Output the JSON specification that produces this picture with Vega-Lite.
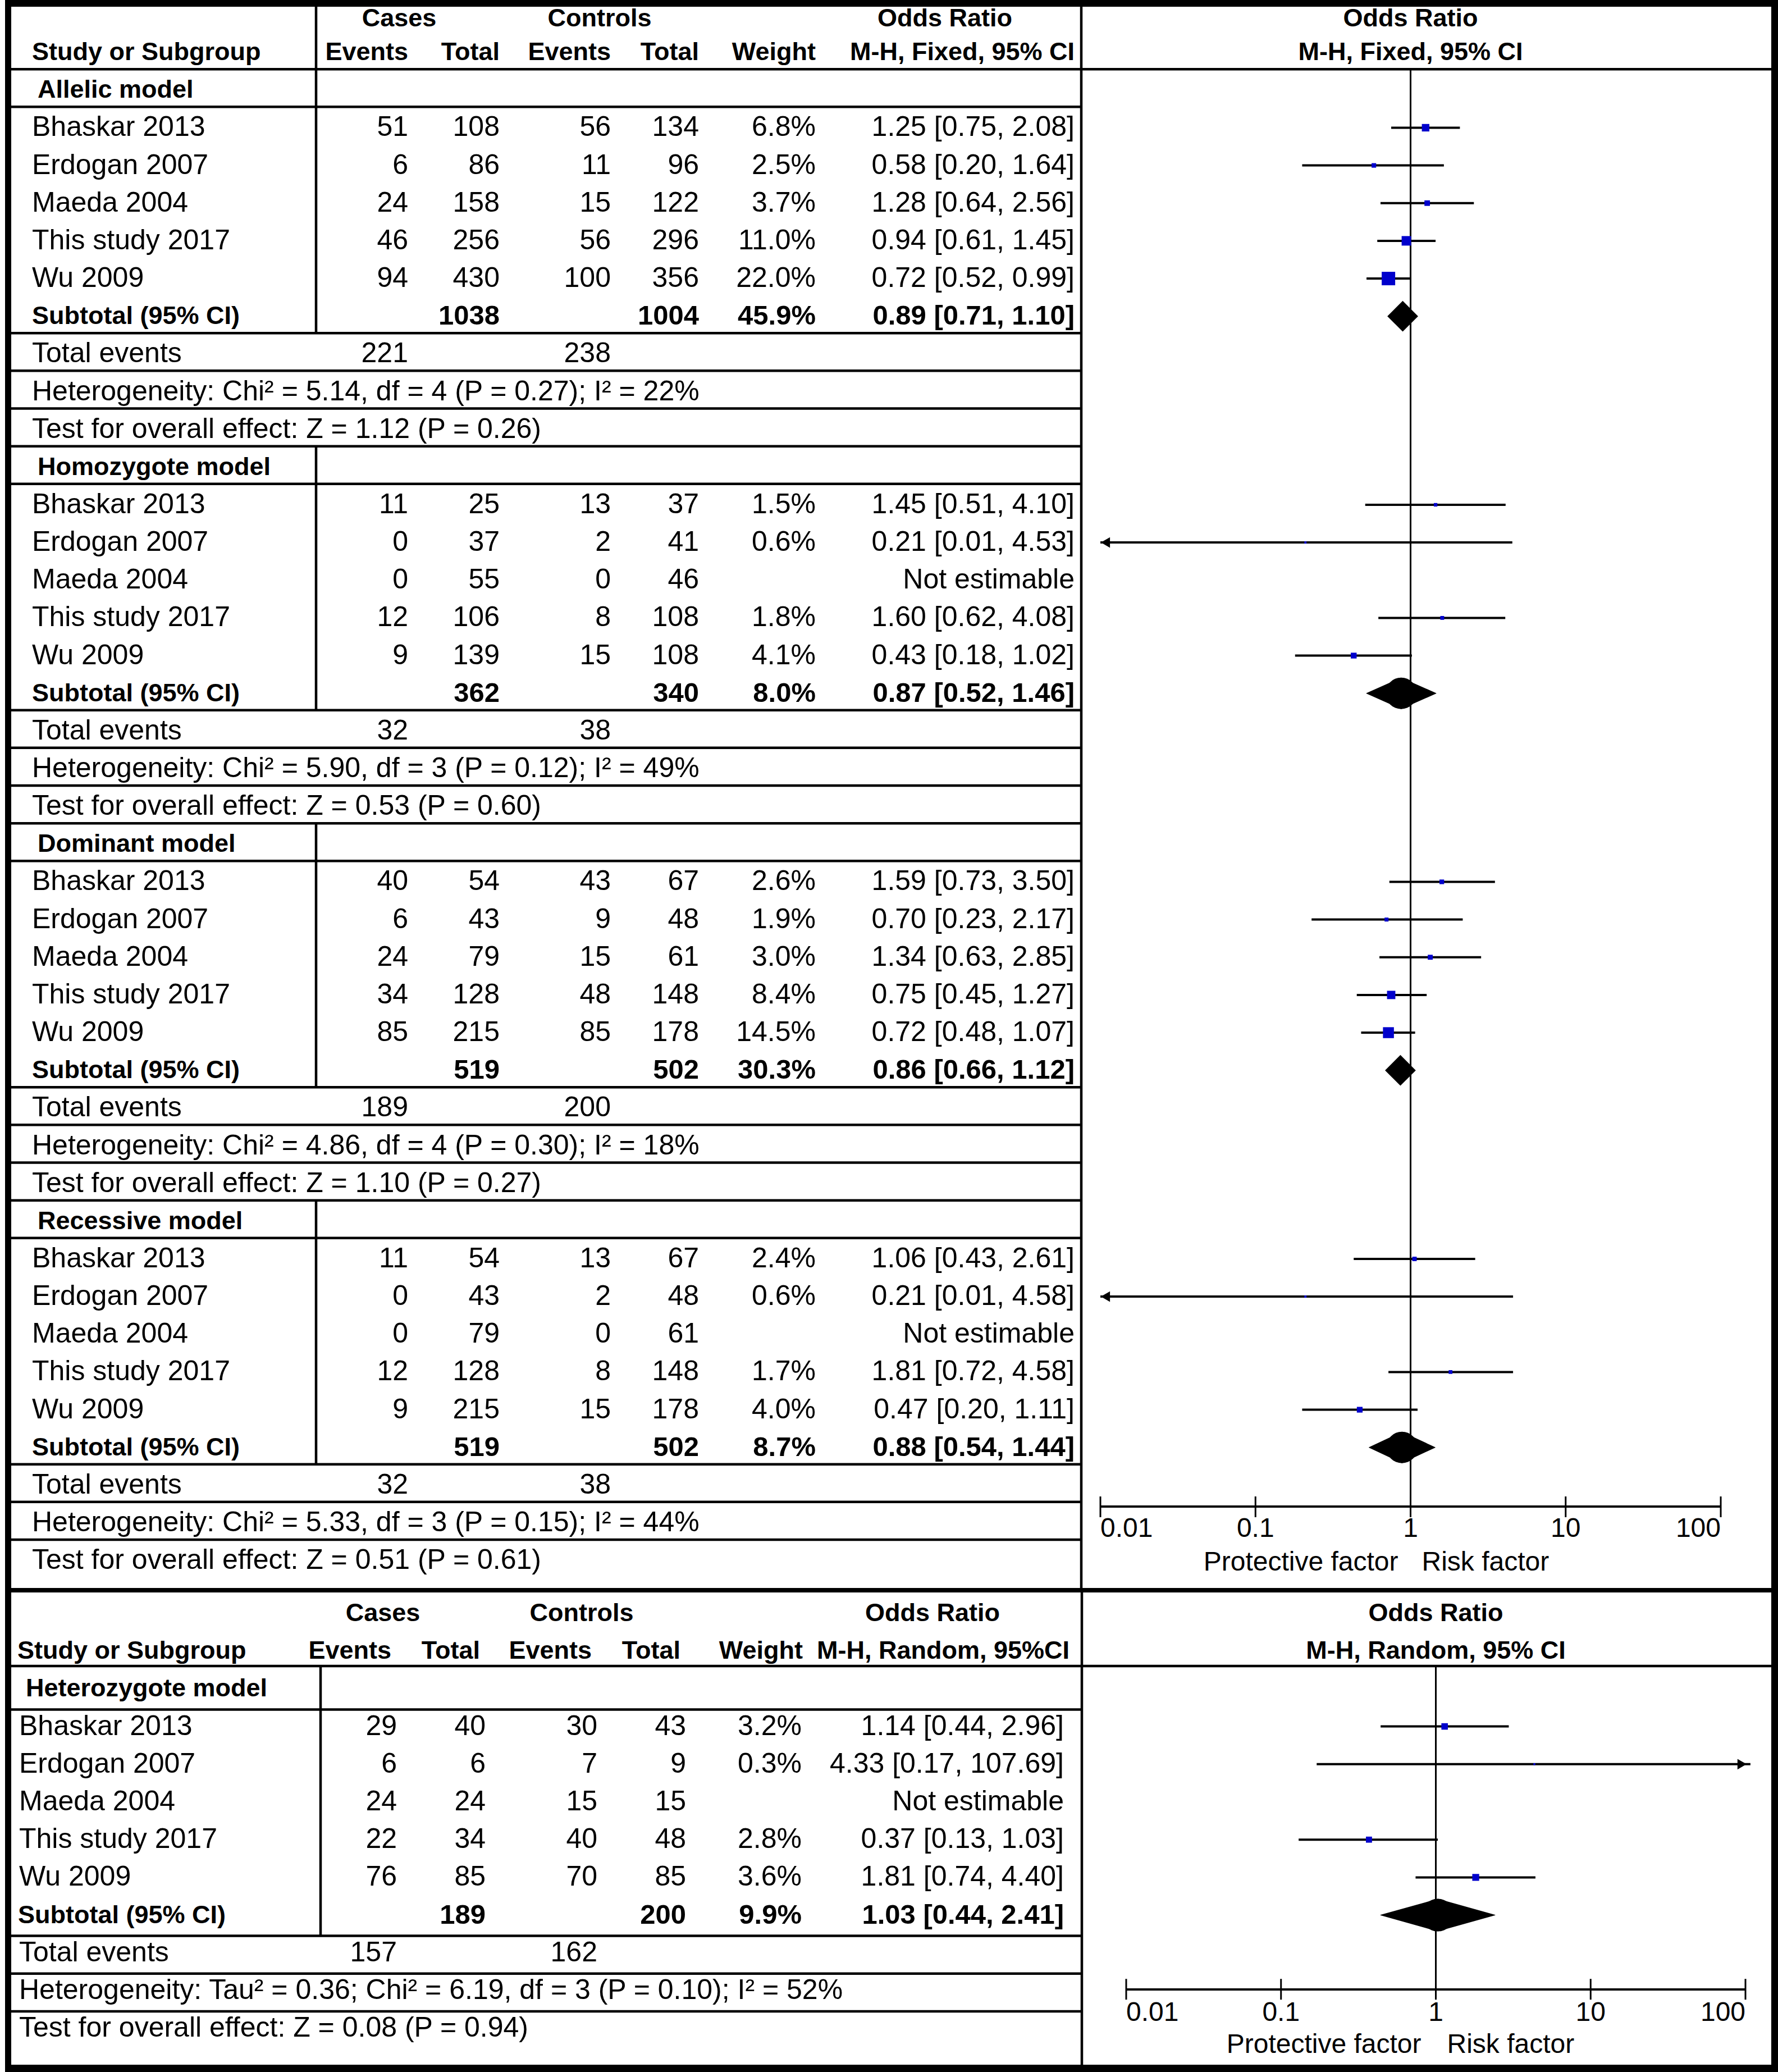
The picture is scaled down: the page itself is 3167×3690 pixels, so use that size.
{
"$schema":"https://vega.github.io/schema/vega-lite/v6.json",
"padding":0,
"background":"white",
"columns":8,
"spacing":0,
"bounds":"flush",
"align":"each",
"resolve":{"scale":{"size":"independent"}},
"config":{"view":{"stroke":null},"text":{"font":"Liberation Sans","fontSize":50,"baseline":"middle","fill":"black"}},
"datasets":{
"top":[
{"row":2,"kind":"group","label":"Allelic model"},
{"row":3,"kind":"study","label":"Bhaskar 2013","ce":51,"ct":108,"ke":56,"kt":134,"w":"6.8%","ortxt":"1.25 [0.75, 2.08]","est":1.25,"lo":0.75,"hi":2.08,"wt":6.8},
{"row":4,"kind":"study","label":"Erdogan 2007","ce":6,"ct":86,"ke":11,"kt":96,"w":"2.5%","ortxt":"0.58 [0.20, 1.64]","est":0.58,"lo":0.20,"hi":1.64,"wt":2.5},
{"row":5,"kind":"study","label":"Maeda 2004","ce":24,"ct":158,"ke":15,"kt":122,"w":"3.7%","ortxt":"1.28 [0.64, 2.56]","est":1.28,"lo":0.64,"hi":2.56,"wt":3.7},
{"row":6,"kind":"study","label":"This study 2017","ce":46,"ct":256,"ke":56,"kt":296,"w":"11.0%","ortxt":"0.94 [0.61, 1.45]","est":0.94,"lo":0.61,"hi":1.45,"wt":11.0},
{"row":7,"kind":"study","label":"Wu 2009","ce":94,"ct":430,"ke":100,"kt":356,"w":"22.0%","ortxt":"0.72 [0.52, 0.99]","est":0.72,"lo":0.52,"hi":0.99,"wt":22.0},
{"row":8,"kind":"sub","label":"Subtotal (95% CI)","ct":1038,"kt":1004,"w":"45.9%","ortxt":"0.89 [0.71, 1.10]","est":0.89,"lo":0.71,"hi":1.10},
{"row":9,"kind":"tot","label":"Total events","ce":221,"ke":238},
{"row":10,"kind":"het","label":"Heterogeneity: Chi² = 5.14, df = 4 (P = 0.27); I² = 22%"},
{"row":11,"kind":"test","label":"Test for overall effect: Z = 1.12 (P = 0.26)"},
{"row":12,"kind":"group","label":"Homozygote model"},
{"row":13,"kind":"study","label":"Bhaskar 2013","ce":11,"ct":25,"ke":13,"kt":37,"w":"1.5%","ortxt":"1.45 [0.51, 4.10]","est":1.45,"lo":0.51,"hi":4.10,"wt":1.5},
{"row":14,"kind":"study","label":"Erdogan 2007","ce":0,"ct":37,"ke":2,"kt":41,"w":"0.6%","ortxt":"0.21 [0.01, 4.53]","est":0.21,"lo":0.01,"hi":4.53,"wt":0.6},
{"row":15,"kind":"study","label":"Maeda 2004","ce":0,"ct":55,"ke":0,"kt":46,"ortxt":"Not estimable"},
{"row":16,"kind":"study","label":"This study 2017","ce":12,"ct":106,"ke":8,"kt":108,"w":"1.8%","ortxt":"1.60 [0.62, 4.08]","est":1.60,"lo":0.62,"hi":4.08,"wt":1.8},
{"row":17,"kind":"study","label":"Wu 2009","ce":9,"ct":139,"ke":15,"kt":108,"w":"4.1%","ortxt":"0.43 [0.18, 1.02]","est":0.43,"lo":0.18,"hi":1.02,"wt":4.1},
{"row":18,"kind":"sub","label":"Subtotal (95% CI)","ct":362,"kt":340,"w":"8.0%","ortxt":"0.87 [0.52, 1.46]","est":0.87,"lo":0.52,"hi":1.46},
{"row":19,"kind":"tot","label":"Total events","ce":32,"ke":38},
{"row":20,"kind":"het","label":"Heterogeneity: Chi² = 5.90, df = 3 (P = 0.12); I² = 49%"},
{"row":21,"kind":"test","label":"Test for overall effect: Z = 0.53 (P = 0.60)"},
{"row":22,"kind":"group","label":"Dominant model"},
{"row":23,"kind":"study","label":"Bhaskar 2013","ce":40,"ct":54,"ke":43,"kt":67,"w":"2.6%","ortxt":"1.59 [0.73, 3.50]","est":1.59,"lo":0.73,"hi":3.50,"wt":2.6},
{"row":24,"kind":"study","label":"Erdogan 2007","ce":6,"ct":43,"ke":9,"kt":48,"w":"1.9%","ortxt":"0.70 [0.23, 2.17]","est":0.70,"lo":0.23,"hi":2.17,"wt":1.9},
{"row":25,"kind":"study","label":"Maeda 2004","ce":24,"ct":79,"ke":15,"kt":61,"w":"3.0%","ortxt":"1.34 [0.63, 2.85]","est":1.34,"lo":0.63,"hi":2.85,"wt":3.0},
{"row":26,"kind":"study","label":"This study 2017","ce":34,"ct":128,"ke":48,"kt":148,"w":"8.4%","ortxt":"0.75 [0.45, 1.27]","est":0.75,"lo":0.45,"hi":1.27,"wt":8.4},
{"row":27,"kind":"study","label":"Wu 2009","ce":85,"ct":215,"ke":85,"kt":178,"w":"14.5%","ortxt":"0.72 [0.48, 1.07]","est":0.72,"lo":0.48,"hi":1.07,"wt":14.5},
{"row":28,"kind":"sub","label":"Subtotal (95% CI)","ct":519,"kt":502,"w":"30.3%","ortxt":"0.86 [0.66, 1.12]","est":0.86,"lo":0.66,"hi":1.12},
{"row":29,"kind":"tot","label":"Total events","ce":189,"ke":200},
{"row":30,"kind":"het","label":"Heterogeneity: Chi² = 4.86, df = 4 (P = 0.30); I² = 18%"},
{"row":31,"kind":"test","label":"Test for overall effect: Z = 1.10 (P = 0.27)"},
{"row":32,"kind":"group","label":"Recessive model"},
{"row":33,"kind":"study","label":"Bhaskar 2013","ce":11,"ct":54,"ke":13,"kt":67,"w":"2.4%","ortxt":"1.06 [0.43, 2.61]","est":1.06,"lo":0.43,"hi":2.61,"wt":2.4},
{"row":34,"kind":"study","label":"Erdogan 2007","ce":0,"ct":43,"ke":2,"kt":48,"w":"0.6%","ortxt":"0.21 [0.01, 4.58]","est":0.21,"lo":0.01,"hi":4.58,"wt":0.6},
{"row":35,"kind":"study","label":"Maeda 2004","ce":0,"ct":79,"ke":0,"kt":61,"ortxt":"Not estimable"},
{"row":36,"kind":"study","label":"This study 2017","ce":12,"ct":128,"ke":8,"kt":148,"w":"1.7%","ortxt":"1.81 [0.72, 4.58]","est":1.81,"lo":0.72,"hi":4.58,"wt":1.7},
{"row":37,"kind":"study","label":"Wu 2009","ce":9,"ct":215,"ke":15,"kt":178,"w":"4.0%","ortxt":"0.47 [0.20, 1.11]","est":0.47,"lo":0.20,"hi":1.11,"wt":4.0},
{"row":38,"kind":"sub","label":"Subtotal (95% CI)","ct":519,"kt":502,"w":"8.7%","ortxt":"0.88 [0.54, 1.44]","est":0.88,"lo":0.54,"hi":1.44},
{"row":39,"kind":"tot","label":"Total events","ce":32,"ke":38},
{"row":40,"kind":"het","label":"Heterogeneity: Chi² = 5.33, df = 3 (P = 0.15); I² = 44%"},
{"row":41,"kind":"test","label":"Test for overall effect: Z = 0.51 (P = 0.61)"}
],
"bot":[
{"row":2,"kind":"group","label":"Heterozygote model"},
{"row":3,"kind":"study","label":"Bhaskar 2013","ce":29,"ct":40,"ke":30,"kt":43,"w":"3.2%","ortxt":"1.14 [0.44, 2.96]","est":1.14,"lo":0.44,"hi":2.96,"wt":3.2},
{"row":4,"kind":"study","label":"Erdogan 2007","ce":6,"ct":6,"ke":7,"kt":9,"w":"0.3%","ortxt":"4.33 [0.17, 107.69]","est":4.33,"lo":0.17,"hi":107.69,"wt":0.3},
{"row":5,"kind":"study","label":"Maeda 2004","ce":24,"ct":24,"ke":15,"kt":15,"ortxt":"Not estimable"},
{"row":6,"kind":"study","label":"This study 2017","ce":22,"ct":34,"ke":40,"kt":48,"w":"2.8%","ortxt":"0.37 [0.13, 1.03]","est":0.37,"lo":0.13,"hi":1.03,"wt":2.8},
{"row":7,"kind":"study","label":"Wu 2009","ce":76,"ct":85,"ke":70,"kt":85,"w":"3.6%","ortxt":"1.81 [0.74, 4.40]","est":1.81,"lo":0.74,"hi":4.40,"wt":3.6},
{"row":8,"kind":"sub","label":"Subtotal (95% CI)","ct":189,"kt":200,"w":"9.9%","ortxt":"1.03 [0.44, 2.41]","est":1.03,"lo":0.44,"hi":2.41},
{"row":9,"kind":"tot","label":"Total events","ce":157,"ke":162},
{"row":10,"kind":"het","label":"Heterogeneity: Tau² = 0.36; Chi² = 6.19, df = 3 (P = 0.10); I² = 52%"},
{"row":11,"kind":"test","label":"Test for overall effect: Z = 0.08 (P = 0.94)"}
],
"ticks":[{"v":0.01,"lab":"0.01"},{"v":0.1,"lab":"0.1"},{"v":1,"lab":"1"},{"v":10,"lab":"10"},{"v":100,"lab":"100"}]
},
"concat":[
{"width":543,"height":2820,"data":{"name":"top"},"layer":[
{"transform":[{"filter":"datum.kind != 'study' && datum.row != 41"}],"mark":{"type":"rule","color":"black","strokeWidth":4.5,"yOffset":30},"encoding":{"y":{"field":"row","type":"quantitative","scale":{"domain":[-0.2085,41.787],"reverse":true,"nice":false,"zero":false},"axis":null}}},
{"data":{"values":[{}]},"mark":{"type":"rule","color":"black","strokeWidth":4.5},"encoding":{"y":{"datum":1.45,"type":"quantitative","axis":null}}},
{"data":{"values":[{}]},"mark":{"type":"rect","color":"black","yOffset":-12,"y2Offset":0},"encoding":{"x":{"value":0},"x2":{"value":"width"},"y":{"datum":-0.2085,"type":"quantitative","axis":null},"y2":{"datum":-0.2085}}},
{"data":{"values":[{}]},"mark":{"type":"rect","color":"black","xOffset":-11,"x2Offset":0,"yOffset":-12,"y2Offset":0},"encoding":{"x":{"value":0},"x2":{"value":0},"y":{"datum":-0.2085,"type":"quantitative","axis":null},"y2":{"datum":41.787}}},
{"data":{"values":[{}]},"mark":{"type":"rect","color":"white","xOffset":-20,"x2Offset":-11,"yOffset":-12,"y2Offset":0},"encoding":{"x":{"value":0},"x2":{"value":0},"y":{"datum":-0.2085,"type":"quantitative","axis":null},"y2":{"datum":41.787}}},
{"data":{"values":[{}]},"mark":{"type":"rule","color":"black","strokeWidth":4.5},"encoding":{"x":{"value":"width"},"y":{"datum":-0.2085,"type":"quantitative","axis":null},"y2":{"datum":8.45}}},
{"data":{"values":[{}]},"mark":{"type":"rule","color":"black","strokeWidth":4.5},"encoding":{"x":{"value":"width"},"y":{"datum":11.45,"type":"quantitative","axis":null},"y2":{"datum":18.45}}},
{"data":{"values":[{}]},"mark":{"type":"rule","color":"black","strokeWidth":4.5},"encoding":{"x":{"value":"width"},"y":{"datum":21.45,"type":"quantitative","axis":null},"y2":{"datum":28.45}}},
{"data":{"values":[{}]},"mark":{"type":"rule","color":"black","strokeWidth":4.5},"encoding":{"x":{"value":"width"},"y":{"datum":31.45,"type":"quantitative","axis":null},"y2":{"datum":38.45}}},
{"data":{"values":[{}]},"mark":{"type":"text","align":"left","fontWeight":"bold","fontSize":45,"dx":37},"encoding":{"x":{"value":0},"y":{"datum":1,"type":"quantitative","axis":null},"text":{"value":"Study or Subgroup"}}},
{"transform":[{"filter":"datum.kind != 'sub' && datum.kind != 'group'"}],"mark":{"type":"text","align":"left","dx":37},"encoding":{"x":{"value":0},"y":{"field":"row","type":"quantitative","axis":null},"text":{"field":"label","type":"nominal"}}},
{"transform":[{"filter":"datum.kind == 'sub'"}],"mark":{"type":"text","align":"left","fontWeight":"bold","fontSize":45,"dx":37},"encoding":{"x":{"value":0},"y":{"field":"row","type":"quantitative","axis":null},"text":{"field":"label","type":"nominal"}}},
{"transform":[{"filter":"datum.kind == 'group'"}],"mark":{"type":"text","align":"left","fontWeight":"bold","fontSize":45,"dx":47},"encoding":{"x":{"value":0},"y":{"field":"row","type":"quantitative","axis":null},"text":{"field":"label","type":"nominal"}}}
]},
{"width":164,"height":2820,"data":{"name":"top"},"layer":[
{"transform":[{"filter":"datum.kind != 'study' && datum.row != 41"}],"mark":{"type":"rule","color":"black","strokeWidth":4.5,"yOffset":30},"encoding":{"y":{"field":"row","type":"quantitative","scale":{"domain":[-0.2085,41.787],"reverse":true,"nice":false,"zero":false},"axis":null}}},
{"data":{"values":[{}]},"mark":{"type":"rule","color":"black","strokeWidth":4.5},"encoding":{"y":{"datum":1.45,"type":"quantitative","axis":null}}},
{"data":{"values":[{}]},"mark":{"type":"rect","color":"black","yOffset":-12,"y2Offset":0},"encoding":{"x":{"value":0},"x2":{"value":"width"},"y":{"datum":-0.2085,"type":"quantitative","axis":null},"y2":{"datum":-0.2085}}},
{"data":{"values":[{}]},"mark":{"type":"text","align":"right","fontWeight":"bold","fontSize":45},"encoding":{"x":{"value":"width"},"y":{"datum":1,"type":"quantitative","axis":null},"text":{"value":"Events"}}},
{"data":{"values":[{}]},"mark":{"type":"text","align":"center","fontWeight":"bold","fontSize":45,"dx":-16},"encoding":{"x":{"value":"width"},"y":{"datum":0.1,"type":"quantitative","axis":null},"text":{"value":"Cases"}}},
{"transform":[{"filter":"datum.kind != 'sub' && isValid(datum.ce)"}],"mark":{"type":"text","align":"right"},"encoding":{"x":{"value":"width"},"y":{"field":"row","type":"quantitative","axis":null},"text":{"field":"ce","type":"nominal"}}}
]},
{"width":163,"height":2820,"data":{"name":"top"},"layer":[
{"transform":[{"filter":"datum.kind != 'study' && datum.row != 41"}],"mark":{"type":"rule","color":"black","strokeWidth":4.5,"yOffset":30},"encoding":{"y":{"field":"row","type":"quantitative","scale":{"domain":[-0.2085,41.787],"reverse":true,"nice":false,"zero":false},"axis":null}}},
{"data":{"values":[{}]},"mark":{"type":"rule","color":"black","strokeWidth":4.5},"encoding":{"y":{"datum":1.45,"type":"quantitative","axis":null}}},
{"data":{"values":[{}]},"mark":{"type":"rect","color":"black","yOffset":-12,"y2Offset":0},"encoding":{"x":{"value":0},"x2":{"value":"width"},"y":{"datum":-0.2085,"type":"quantitative","axis":null},"y2":{"datum":-0.2085}}},
{"data":{"values":[{}]},"mark":{"type":"text","align":"right","fontWeight":"bold","fontSize":45},"encoding":{"x":{"value":"width"},"y":{"datum":1,"type":"quantitative","axis":null},"text":{"value":"Total"}}},
{"transform":[{"filter":"datum.kind != 'sub' && isValid(datum.ct)"}],"mark":{"type":"text","align":"right"},"encoding":{"x":{"value":"width"},"y":{"field":"row","type":"quantitative","axis":null},"text":{"field":"ct","type":"nominal"}}},
{"transform":[{"filter":"datum.kind == 'sub' && isValid(datum.ct)"}],"mark":{"type":"text","align":"right","fontWeight":"bold","fontSize":49},"encoding":{"x":{"value":"width"},"y":{"field":"row","type":"quantitative","axis":null},"text":{"field":"ct","type":"nominal"}}}
]},
{"width":198,"height":2820,"data":{"name":"top"},"layer":[
{"transform":[{"filter":"datum.kind != 'study' && datum.row != 41"}],"mark":{"type":"rule","color":"black","strokeWidth":4.5,"yOffset":30},"encoding":{"y":{"field":"row","type":"quantitative","scale":{"domain":[-0.2085,41.787],"reverse":true,"nice":false,"zero":false},"axis":null}}},
{"data":{"values":[{}]},"mark":{"type":"rule","color":"black","strokeWidth":4.5},"encoding":{"y":{"datum":1.45,"type":"quantitative","axis":null}}},
{"data":{"values":[{}]},"mark":{"type":"rect","color":"black","yOffset":-12,"y2Offset":0},"encoding":{"x":{"value":0},"x2":{"value":"width"},"y":{"datum":-0.2085,"type":"quantitative","axis":null},"y2":{"datum":-0.2085}}},
{"data":{"values":[{}]},"mark":{"type":"text","align":"right","fontWeight":"bold","fontSize":45},"encoding":{"x":{"value":"width"},"y":{"datum":1,"type":"quantitative","axis":null},"text":{"value":"Events"}}},
{"data":{"values":[{}]},"mark":{"type":"text","align":"center","fontWeight":"bold","fontSize":45,"dx":-20},"encoding":{"x":{"value":"width"},"y":{"datum":0.1,"type":"quantitative","axis":null},"text":{"value":"Controls"}}},
{"transform":[{"filter":"datum.kind != 'sub' && isValid(datum.ke)"}],"mark":{"type":"text","align":"right"},"encoding":{"x":{"value":"width"},"y":{"field":"row","type":"quantitative","axis":null},"text":{"field":"ke","type":"nominal"}}}
]},
{"width":157,"height":2820,"data":{"name":"top"},"layer":[
{"transform":[{"filter":"datum.kind != 'study' && datum.row != 41"}],"mark":{"type":"rule","color":"black","strokeWidth":4.5,"yOffset":30},"encoding":{"y":{"field":"row","type":"quantitative","scale":{"domain":[-0.2085,41.787],"reverse":true,"nice":false,"zero":false},"axis":null}}},
{"data":{"values":[{}]},"mark":{"type":"rule","color":"black","strokeWidth":4.5},"encoding":{"y":{"datum":1.45,"type":"quantitative","axis":null}}},
{"data":{"values":[{}]},"mark":{"type":"rect","color":"black","yOffset":-12,"y2Offset":0},"encoding":{"x":{"value":0},"x2":{"value":"width"},"y":{"datum":-0.2085,"type":"quantitative","axis":null},"y2":{"datum":-0.2085}}},
{"data":{"values":[{}]},"mark":{"type":"text","align":"right","fontWeight":"bold","fontSize":45},"encoding":{"x":{"value":"width"},"y":{"datum":1,"type":"quantitative","axis":null},"text":{"value":"Total"}}},
{"transform":[{"filter":"datum.kind != 'sub' && isValid(datum.kt)"}],"mark":{"type":"text","align":"right"},"encoding":{"x":{"value":"width"},"y":{"field":"row","type":"quantitative","axis":null},"text":{"field":"kt","type":"nominal"}}},
{"transform":[{"filter":"datum.kind == 'sub' && isValid(datum.kt)"}],"mark":{"type":"text","align":"right","fontWeight":"bold","fontSize":49},"encoding":{"x":{"value":"width"},"y":{"field":"row","type":"quantitative","axis":null},"text":{"field":"kt","type":"nominal"}}}
]},
{"width":208,"height":2820,"data":{"name":"top"},"layer":[
{"transform":[{"filter":"datum.kind != 'study' && datum.row != 41"}],"mark":{"type":"rule","color":"black","strokeWidth":4.5,"yOffset":30},"encoding":{"y":{"field":"row","type":"quantitative","scale":{"domain":[-0.2085,41.787],"reverse":true,"nice":false,"zero":false},"axis":null}}},
{"data":{"values":[{}]},"mark":{"type":"rule","color":"black","strokeWidth":4.5},"encoding":{"y":{"datum":1.45,"type":"quantitative","axis":null}}},
{"data":{"values":[{}]},"mark":{"type":"rect","color":"black","yOffset":-12,"y2Offset":0},"encoding":{"x":{"value":0},"x2":{"value":"width"},"y":{"datum":-0.2085,"type":"quantitative","axis":null},"y2":{"datum":-0.2085}}},
{"data":{"values":[{}]},"mark":{"type":"text","align":"right","fontWeight":"bold","fontSize":45},"encoding":{"x":{"value":"width"},"y":{"datum":1,"type":"quantitative","axis":null},"text":{"value":"Weight"}}},
{"transform":[{"filter":"datum.kind != 'sub' && isValid(datum.w)"}],"mark":{"type":"text","align":"right"},"encoding":{"x":{"value":"width"},"y":{"field":"row","type":"quantitative","axis":null},"text":{"field":"w","type":"nominal"}}},
{"transform":[{"filter":"datum.kind == 'sub' && isValid(datum.w)"}],"mark":{"type":"text","align":"right","fontWeight":"bold","fontSize":49},"encoding":{"x":{"value":"width"},"y":{"field":"row","type":"quantitative","axis":null},"text":{"field":"w","type":"nominal"}}}
]},
{"width":473,"height":2820,"data":{"name":"top"},"layer":[
{"transform":[{"filter":"datum.kind != 'study' && datum.row != 41"}],"mark":{"type":"rule","color":"black","strokeWidth":4.5,"yOffset":30},"encoding":{"y":{"field":"row","type":"quantitative","scale":{"domain":[-0.2085,41.787],"reverse":true,"nice":false,"zero":false},"axis":null}}},
{"data":{"values":[{}]},"mark":{"type":"rule","color":"black","strokeWidth":4.5},"encoding":{"y":{"datum":1.45,"type":"quantitative","axis":null}}},
{"data":{"values":[{}]},"mark":{"type":"rect","color":"black","yOffset":-12,"y2Offset":0},"encoding":{"x":{"value":0},"x2":{"value":"width"},"y":{"datum":-0.2085,"type":"quantitative","axis":null},"y2":{"datum":-0.2085}}},
{"data":{"values":[{}]},"mark":{"type":"text","align":"right","fontWeight":"bold","fontSize":45,"dx":-12},"encoding":{"x":{"value":"width"},"y":{"datum":1,"type":"quantitative","axis":null},"text":{"value":"M-H, Fixed, 95% CI"}}},
{"data":{"values":[{}]},"mark":{"type":"text","align":"center","fontWeight":"bold","fontSize":45,"dx":-243},"encoding":{"x":{"value":"width"},"y":{"datum":0.1,"type":"quantitative","axis":null},"text":{"value":"Odds Ratio"}}},
{"transform":[{"filter":"datum.kind != 'sub' && isValid(datum.ortxt)"}],"mark":{"type":"text","align":"right","dx":-12},"encoding":{"x":{"value":"width"},"y":{"field":"row","type":"quantitative","axis":null},"text":{"field":"ortxt","type":"nominal"}}},
{"transform":[{"filter":"datum.kind == 'sub' && isValid(datum.ortxt)"}],"mark":{"type":"text","align":"right","fontWeight":"bold","fontSize":49,"dx":-12},"encoding":{"x":{"value":"width"},"y":{"field":"row","type":"quantitative","axis":null},"text":{"field":"ortxt","type":"nominal"}}}
]},
{"width":1229,"height":2820,"data":{"name":"top"},"resolve":{"scale":{"size":"independent"}},"layer":[
{"data":{"values":[{}]},"mark":{"type":"rect","color":"black","yOffset":-12,"y2Offset":0},"encoding":{"x":{"value":0},"x2":{"value":"width"},"y":{"datum":-0.2085,"type":"quantitative","scale":{"domain":[-0.2085,41.787],"reverse":true,"nice":false,"zero":false},"axis":null},"y2":{"datum":-0.2085}}},
{"data":{"values":[{}]},"mark":{"type":"rect","color":"black","xOffset":0,"x2Offset":12,"yOffset":-12,"y2Offset":0},"encoding":{"x":{"value":"width"},"x2":{"value":"width"},"y":{"datum":-0.2085,"type":"quantitative","axis":null},"y2":{"datum":41.787}}},
{"data":{"values":[{}]},"mark":{"type":"rule","color":"black","strokeWidth":4.5},"encoding":{"x":{"value":0},"y":{"datum":-0.2085,"type":"quantitative","axis":null},"y2":{"datum":41.787}}},
{"data":{"values":[{}]},"mark":{"type":"rule","color":"black","strokeWidth":4.5},"encoding":{"y":{"datum":1.45,"type":"quantitative","axis":null}}},
{"data":{"values":[{}]},"mark":{"type":"text","align":"center","fontWeight":"bold","fontSize":45},"encoding":{"x":{"datum":1,"type":"quantitative","scale":{"type":"log","domain":[0.007531,211.7],"nice":false},"axis":null},"y":{"datum":0.1,"type":"quantitative","axis":null},"text":{"value":"Odds Ratio"}}},
{"data":{"values":[{}]},"mark":{"type":"text","align":"center","fontWeight":"bold","fontSize":45},"encoding":{"x":{"datum":1,"type":"quantitative","axis":null},"y":{"datum":1,"type":"quantitative","axis":null},"text":{"value":"M-H, Fixed, 95% CI"}}},
{"data":{"values":[{}]},"mark":{"type":"rule","color":"black","strokeWidth":3},"encoding":{"x":{"datum":1,"type":"quantitative","axis":null},"y":{"datum":1.45,"type":"quantitative","axis":null},"y2":{"datum":39.568}}},
{"transform":[{"filter":"datum.kind == 'study' && isValid(datum.est)"}],"mark":{"type":"rule","color":"black","strokeWidth":4},"encoding":{"x":{"field":"lo","type":"quantitative","axis":null},"x2":{"field":"hi"},"y":{"field":"row","type":"quantitative","axis":null}}},
{"transform":[{"filter":"datum.kind == 'study' && isValid(datum.est)"}],"mark":{"type":"point","shape":"square","filled":true,"color":"#0000CC","opacity":1},"encoding":{"x":{"field":"est","type":"quantitative","axis":null},"y":{"field":"row","type":"quantitative","axis":null},"size":{"field":"wt","type":"quantitative","scale":{"domain":[0,22],"range":[0,576]},"legend":null}}},
{"transform":[{"filter":"datum.kind == 'study' && isValid(datum.lo) && datum.lo <= 0.01"}],"mark":{"type":"point","shape":"triangle-left","filled":true,"color":"black","opacity":1,"size":350,"xOffset":9},"encoding":{"x":{"field":"lo","type":"quantitative","axis":null},"y":{"field":"row","type":"quantitative","axis":null}}},
{"transform":[{"filter":"datum.kind == 'sub' && datum.hi / datum.lo < 2"}],"mark":{"type":"point","shape":"M-1,0L0,-1L1,0L0,1Z","filled":true,"color":"black","opacity":1,"size":3000},"encoding":{"x":{"field":"est","type":"quantitative","axis":null},"y":{"field":"row","type":"quantitative","axis":null}}},
{"transform":[{"filter":"datum.kind == 'sub' && datum.hi / datum.lo >= 2"},{"fold":["lo","est"],"as":["key","value"]}],"mark":{"type":"trail","color":"black","opacity":1},"encoding":{"x":{"field":"value","type":"quantitative","axis":null},"y":{"field":"row","type":"quantitative","axis":null},"size":{"field":"key","type":"nominal","scale":{"type":"point","domain":["lo","est"],"range":[0,56],"padding":0},"legend":null},"detail":{"field":"row","type":"nominal"}}},
{"transform":[{"filter":"datum.kind == 'sub' && datum.hi / datum.lo >= 2"},{"fold":["est","hi"],"as":["key","value"]}],"mark":{"type":"trail","color":"black","opacity":1},"encoding":{"x":{"field":"value","type":"quantitative","axis":null},"y":{"field":"row","type":"quantitative","axis":null},"size":{"field":"key","type":"nominal","scale":{"type":"point","domain":["hi","est"],"range":[0,56],"padding":0},"legend":null},"detail":{"field":"row","type":"nominal"}}},
{"data":{"values":[{}]},"mark":{"type":"rule","color":"black","strokeWidth":4},"encoding":{"x":{"datum":0.01,"type":"quantitative","axis":null},"x2":{"datum":100},"y":{"datum":39.568,"type":"quantitative","axis":null}}},
{"data":{"name":"ticks"},"mark":{"type":"rule","color":"black","strokeWidth":3},"encoding":{"x":{"field":"v","type":"quantitative","axis":null},"y":{"datum":39.30,"type":"quantitative","axis":null},"y2":{"datum":39.85}}},
{"data":{"name":"ticks"},"transform":[{"filter":"datum.v == 0.01"}],"mark":{"type":"text","align":"left","fontSize":48},"encoding":{"x":{"field":"v","type":"quantitative","axis":null},"y":{"datum":40.16,"type":"quantitative","axis":null},"text":{"field":"lab","type":"nominal"}}},
{"data":{"name":"ticks"},"transform":[{"filter":"datum.v > 0.01 && datum.v < 100"}],"mark":{"type":"text","align":"center","fontSize":48},"encoding":{"x":{"field":"v","type":"quantitative","axis":null},"y":{"datum":40.16,"type":"quantitative","axis":null},"text":{"field":"lab","type":"nominal"}}},
{"data":{"name":"ticks"},"transform":[{"filter":"datum.v == 100"}],"mark":{"type":"text","align":"right","fontSize":48},"encoding":{"x":{"field":"v","type":"quantitative","axis":null},"y":{"datum":40.16,"type":"quantitative","axis":null},"text":{"field":"lab","type":"nominal"}}},
{"data":{"values":[{}]},"mark":{"type":"text","align":"right","fontSize":48,"dx":-22},"encoding":{"x":{"datum":1,"type":"quantitative","axis":null},"y":{"datum":41.06,"type":"quantitative","axis":null},"text":{"value":"Protective factor"}}},
{"data":{"values":[{}]},"mark":{"type":"text","align":"left","fontSize":48,"dx":20},"encoding":{"x":{"datum":1,"type":"quantitative","axis":null},"y":{"datum":41.06,"type":"quantitative","axis":null},"text":{"value":"Risk factor"}}}
]},
{"width":543,"height":845,"data":{"name":"bot"},"layer":[
{"transform":[{"filter":"datum.kind != 'study' && datum.row != 11"}],"mark":{"type":"rule","color":"black","strokeWidth":4.5,"yOffset":37},"encoding":{"y":{"field":"row","type":"quantitative","scale":{"domain":[-0.61,11.964],"reverse":true,"nice":false,"zero":false},"axis":null}}},
{"data":{"values":[{}]},"mark":{"type":"rule","color":"black","strokeWidth":4.5},"encoding":{"y":{"datum":1.4,"type":"quantitative","axis":null}}},
{"data":{"values":[{}]},"mark":{"type":"rule","color":"black","strokeWidth":8},"encoding":{"y":{"datum":-0.61,"type":"quantitative","axis":null}}},
{"data":{"values":[{}]},"mark":{"type":"rect","color":"black","yOffset":0,"y2Offset":13},"encoding":{"x":{"value":0},"x2":{"value":"width"},"y":{"datum":11.964,"type":"quantitative","axis":null},"y2":{"datum":11.964}}},
{"data":{"values":[{}]},"mark":{"type":"rect","color":"black","xOffset":-11,"x2Offset":0,"yOffset":0,"y2Offset":13},"encoding":{"x":{"value":0},"x2":{"value":0},"y":{"datum":-0.61,"type":"quantitative","axis":null},"y2":{"datum":11.964}}},
{"data":{"values":[{}]},"mark":{"type":"rect","color":"white","xOffset":-20,"x2Offset":-11,"yOffset":0,"y2Offset":13},"encoding":{"x":{"value":0},"x2":{"value":0},"y":{"datum":-0.61,"type":"quantitative","axis":null},"y2":{"datum":11.964}}},
{"data":{"values":[{}]},"mark":{"type":"rule","color":"black","strokeWidth":4.5,"xOffset":8},"encoding":{"x":{"value":"width"},"y":{"datum":1.4,"type":"quantitative","axis":null},"y2":{"datum":8.55}}},
{"data":{"values":[{}]},"mark":{"type":"text","align":"left","fontWeight":"bold","fontSize":45,"dx":11},"encoding":{"x":{"value":0},"y":{"datum":1,"type":"quantitative","axis":null},"text":{"value":"Study or Subgroup"}}},
{"transform":[{"filter":"datum.kind != 'sub' && datum.kind != 'group'"}],"mark":{"type":"text","align":"left","dx":14},"encoding":{"x":{"value":0},"y":{"field":"row","type":"quantitative","axis":null},"text":{"field":"label","type":"nominal"}}},
{"transform":[{"filter":"datum.kind == 'sub'"}],"mark":{"type":"text","align":"left","fontWeight":"bold","fontSize":45,"dx":12},"encoding":{"x":{"value":0},"y":{"field":"row","type":"quantitative","axis":null},"text":{"field":"label","type":"nominal"}}},
{"transform":[{"filter":"datum.kind == 'group'"}],"mark":{"type":"text","align":"left","fontWeight":"bold","fontSize":45,"dx":26},"encoding":{"x":{"value":0},"y":{"field":"row","type":"quantitative","axis":null},"text":{"field":"label","type":"nominal"}}}
]},
{"width":164,"height":845,"data":{"name":"bot"},"layer":[
{"transform":[{"filter":"datum.kind != 'study' && datum.row != 11"}],"mark":{"type":"rule","color":"black","strokeWidth":4.5,"yOffset":37},"encoding":{"y":{"field":"row","type":"quantitative","scale":{"domain":[-0.61,11.964],"reverse":true,"nice":false,"zero":false},"axis":null}}},
{"data":{"values":[{}]},"mark":{"type":"rule","color":"black","strokeWidth":4.5},"encoding":{"y":{"datum":1.4,"type":"quantitative","axis":null}}},
{"data":{"values":[{}]},"mark":{"type":"rule","color":"black","strokeWidth":8},"encoding":{"y":{"datum":-0.61,"type":"quantitative","axis":null}}},
{"data":{"values":[{}]},"mark":{"type":"rect","color":"black","yOffset":0,"y2Offset":13},"encoding":{"x":{"value":0},"x2":{"value":"width"},"y":{"datum":11.964,"type":"quantitative","axis":null},"y2":{"datum":11.964}}},
{"data":{"values":[{}]},"mark":{"type":"text","align":"right","fontWeight":"bold","fontSize":45,"dx":-30},"encoding":{"x":{"value":"width"},"y":{"datum":1,"type":"quantitative","axis":null},"text":{"value":"Events"}}},
{"data":{"values":[{}]},"mark":{"type":"text","align":"center","fontWeight":"bold","fontSize":45,"dx":-45},"encoding":{"x":{"value":"width"},"y":{"datum":0,"type":"quantitative","axis":null},"text":{"value":"Cases"}}},
{"transform":[{"filter":"datum.kind != 'sub' && isValid(datum.ce)"}],"mark":{"type":"text","align":"right","dx":-20},"encoding":{"x":{"value":"width"},"y":{"field":"row","type":"quantitative","axis":null},"text":{"field":"ce","type":"nominal"}}}
]},
{"width":163,"height":845,"data":{"name":"bot"},"layer":[
{"transform":[{"filter":"datum.kind != 'study' && datum.row != 11"}],"mark":{"type":"rule","color":"black","strokeWidth":4.5,"yOffset":37},"encoding":{"y":{"field":"row","type":"quantitative","scale":{"domain":[-0.61,11.964],"reverse":true,"nice":false,"zero":false},"axis":null}}},
{"data":{"values":[{}]},"mark":{"type":"rule","color":"black","strokeWidth":4.5},"encoding":{"y":{"datum":1.4,"type":"quantitative","axis":null}}},
{"data":{"values":[{}]},"mark":{"type":"rule","color":"black","strokeWidth":8},"encoding":{"y":{"datum":-0.61,"type":"quantitative","axis":null}}},
{"data":{"values":[{}]},"mark":{"type":"rect","color":"black","yOffset":0,"y2Offset":13},"encoding":{"x":{"value":0},"x2":{"value":"width"},"y":{"datum":11.964,"type":"quantitative","axis":null},"y2":{"datum":11.964}}},
{"data":{"values":[{}]},"mark":{"type":"text","align":"right","fontWeight":"bold","fontSize":45,"dx":-35},"encoding":{"x":{"value":"width"},"y":{"datum":1,"type":"quantitative","axis":null},"text":{"value":"Total"}}},
{"transform":[{"filter":"datum.kind != 'sub' && isValid(datum.ct)"}],"mark":{"type":"text","align":"right","dx":-25},"encoding":{"x":{"value":"width"},"y":{"field":"row","type":"quantitative","axis":null},"text":{"field":"ct","type":"nominal"}}},
{"transform":[{"filter":"datum.kind == 'sub' && isValid(datum.ct)"}],"mark":{"type":"text","align":"right","fontWeight":"bold","fontSize":49,"dx":-25},"encoding":{"x":{"value":"width"},"y":{"field":"row","type":"quantitative","axis":null},"text":{"field":"ct","type":"nominal"}}}
]},
{"width":198,"height":845,"data":{"name":"bot"},"layer":[
{"transform":[{"filter":"datum.kind != 'study' && datum.row != 11"}],"mark":{"type":"rule","color":"black","strokeWidth":4.5,"yOffset":37},"encoding":{"y":{"field":"row","type":"quantitative","scale":{"domain":[-0.61,11.964],"reverse":true,"nice":false,"zero":false},"axis":null}}},
{"data":{"values":[{}]},"mark":{"type":"rule","color":"black","strokeWidth":4.5},"encoding":{"y":{"datum":1.4,"type":"quantitative","axis":null}}},
{"data":{"values":[{}]},"mark":{"type":"rule","color":"black","strokeWidth":8},"encoding":{"y":{"datum":-0.61,"type":"quantitative","axis":null}}},
{"data":{"values":[{}]},"mark":{"type":"rect","color":"black","yOffset":0,"y2Offset":13},"encoding":{"x":{"value":0},"x2":{"value":"width"},"y":{"datum":11.964,"type":"quantitative","axis":null},"y2":{"datum":11.964}}},
{"data":{"values":[{}]},"mark":{"type":"text","align":"right","fontWeight":"bold","fontSize":45,"dx":-34},"encoding":{"x":{"value":"width"},"y":{"datum":1,"type":"quantitative","axis":null},"text":{"value":"Events"}}},
{"data":{"values":[{}]},"mark":{"type":"text","align":"center","fontWeight":"bold","fontSize":45,"dx":-52},"encoding":{"x":{"value":"width"},"y":{"datum":0,"type":"quantitative","axis":null},"text":{"value":"Controls"}}},
{"transform":[{"filter":"datum.kind != 'sub' && isValid(datum.ke)"}],"mark":{"type":"text","align":"right","dx":-24},"encoding":{"x":{"value":"width"},"y":{"field":"row","type":"quantitative","axis":null},"text":{"field":"ke","type":"nominal"}}}
]},
{"width":157,"height":845,"data":{"name":"bot"},"layer":[
{"transform":[{"filter":"datum.kind != 'study' && datum.row != 11"}],"mark":{"type":"rule","color":"black","strokeWidth":4.5,"yOffset":37},"encoding":{"y":{"field":"row","type":"quantitative","scale":{"domain":[-0.61,11.964],"reverse":true,"nice":false,"zero":false},"axis":null}}},
{"data":{"values":[{}]},"mark":{"type":"rule","color":"black","strokeWidth":4.5},"encoding":{"y":{"datum":1.4,"type":"quantitative","axis":null}}},
{"data":{"values":[{}]},"mark":{"type":"rule","color":"black","strokeWidth":8},"encoding":{"y":{"datum":-0.61,"type":"quantitative","axis":null}}},
{"data":{"values":[{}]},"mark":{"type":"rect","color":"black","yOffset":0,"y2Offset":13},"encoding":{"x":{"value":0},"x2":{"value":"width"},"y":{"datum":11.964,"type":"quantitative","axis":null},"y2":{"datum":11.964}}},
{"data":{"values":[{}]},"mark":{"type":"text","align":"right","fontWeight":"bold","fontSize":45,"dx":-33},"encoding":{"x":{"value":"width"},"y":{"datum":1,"type":"quantitative","axis":null},"text":{"value":"Total"}}},
{"transform":[{"filter":"datum.kind != 'sub' && isValid(datum.kt)"}],"mark":{"type":"text","align":"right","dx":-23},"encoding":{"x":{"value":"width"},"y":{"field":"row","type":"quantitative","axis":null},"text":{"field":"kt","type":"nominal"}}},
{"transform":[{"filter":"datum.kind == 'sub' && isValid(datum.kt)"}],"mark":{"type":"text","align":"right","fontWeight":"bold","fontSize":49,"dx":-23},"encoding":{"x":{"value":"width"},"y":{"field":"row","type":"quantitative","axis":null},"text":{"field":"kt","type":"nominal"}}}
]},
{"width":208,"height":845,"data":{"name":"bot"},"layer":[
{"transform":[{"filter":"datum.kind != 'study' && datum.row != 11"}],"mark":{"type":"rule","color":"black","strokeWidth":4.5,"yOffset":37},"encoding":{"y":{"field":"row","type":"quantitative","scale":{"domain":[-0.61,11.964],"reverse":true,"nice":false,"zero":false},"axis":null}}},
{"data":{"values":[{}]},"mark":{"type":"rule","color":"black","strokeWidth":4.5},"encoding":{"y":{"datum":1.4,"type":"quantitative","axis":null}}},
{"data":{"values":[{}]},"mark":{"type":"rule","color":"black","strokeWidth":8},"encoding":{"y":{"datum":-0.61,"type":"quantitative","axis":null}}},
{"data":{"values":[{}]},"mark":{"type":"rect","color":"black","yOffset":0,"y2Offset":13},"encoding":{"x":{"value":0},"x2":{"value":"width"},"y":{"datum":11.964,"type":"quantitative","axis":null},"y2":{"datum":11.964}}},
{"data":{"values":[{}]},"mark":{"type":"text","align":"right","fontWeight":"bold","fontSize":45,"dx":-23},"encoding":{"x":{"value":"width"},"y":{"datum":1,"type":"quantitative","axis":null},"text":{"value":"Weight"}}},
{"transform":[{"filter":"datum.kind != 'sub' && isValid(datum.w)"}],"mark":{"type":"text","align":"right","dx":-25},"encoding":{"x":{"value":"width"},"y":{"field":"row","type":"quantitative","axis":null},"text":{"field":"w","type":"nominal"}}},
{"transform":[{"filter":"datum.kind == 'sub' && isValid(datum.w)"}],"mark":{"type":"text","align":"right","fontWeight":"bold","fontSize":49,"dx":-25},"encoding":{"x":{"value":"width"},"y":{"field":"row","type":"quantitative","axis":null},"text":{"field":"w","type":"nominal"}}}
]},
{"width":473,"height":845,"data":{"name":"bot"},"layer":[
{"transform":[{"filter":"datum.kind != 'study' && datum.row != 11"}],"mark":{"type":"rule","color":"black","strokeWidth":4.5,"yOffset":37},"encoding":{"y":{"field":"row","type":"quantitative","scale":{"domain":[-0.61,11.964],"reverse":true,"nice":false,"zero":false},"axis":null}}},
{"data":{"values":[{}]},"mark":{"type":"rule","color":"black","strokeWidth":4.5},"encoding":{"y":{"datum":1.4,"type":"quantitative","axis":null}}},
{"data":{"values":[{}]},"mark":{"type":"rule","color":"black","strokeWidth":8},"encoding":{"y":{"datum":-0.61,"type":"quantitative","axis":null}}},
{"data":{"values":[{}]},"mark":{"type":"rect","color":"black","yOffset":0,"y2Offset":13},"encoding":{"x":{"value":0},"x2":{"value":"width"},"y":{"datum":11.964,"type":"quantitative","axis":null},"y2":{"datum":11.964}}},
{"data":{"values":[{}]},"mark":{"type":"text","align":"right","fontWeight":"bold","fontSize":45,"dx":-21},"encoding":{"x":{"value":"width"},"y":{"datum":1,"type":"quantitative","axis":null},"text":{"value":"M-H, Random, 95%CI"}}},
{"data":{"values":[{}]},"mark":{"type":"text","align":"center","fontWeight":"bold","fontSize":45,"dx":-265},"encoding":{"x":{"value":"width"},"y":{"datum":0,"type":"quantitative","axis":null},"text":{"value":"Odds Ratio"}}},
{"transform":[{"filter":"datum.kind != 'sub' && isValid(datum.ortxt)"}],"mark":{"type":"text","align":"right","dx":-31},"encoding":{"x":{"value":"width"},"y":{"field":"row","type":"quantitative","axis":null},"text":{"field":"ortxt","type":"nominal"}}},
{"transform":[{"filter":"datum.kind == 'sub' && isValid(datum.ortxt)"}],"mark":{"type":"text","align":"right","fontWeight":"bold","fontSize":49,"dx":-31},"encoding":{"x":{"value":"width"},"y":{"field":"row","type":"quantitative","axis":null},"text":{"field":"ortxt","type":"nominal"}}}
]},
{"width":1229,"height":845,"data":{"name":"bot"},"resolve":{"scale":{"size":"independent"}},"layer":[
{"data":{"values":[{}]},"mark":{"type":"rule","color":"black","strokeWidth":8},"encoding":{"y":{"datum":-0.61,"type":"quantitative","scale":{"domain":[-0.61,11.964],"reverse":true,"nice":false,"zero":false},"axis":null}}},
{"data":{"values":[{}]},"mark":{"type":"rect","color":"black","yOffset":0,"y2Offset":13},"encoding":{"x":{"value":0},"x2":{"value":"width"},"y":{"datum":11.964,"type":"quantitative","axis":null},"y2":{"datum":11.964}}},
{"data":{"values":[{}]},"mark":{"type":"rect","color":"black","xOffset":0,"x2Offset":12,"yOffset":0,"y2Offset":13},"encoding":{"x":{"value":"width"},"x2":{"value":"width"},"y":{"datum":-0.61,"type":"quantitative","axis":null},"y2":{"datum":11.964}}},
{"data":{"values":[{}]},"mark":{"type":"rule","color":"black","strokeWidth":4.5,"xOffset":1},"encoding":{"x":{"value":0},"y":{"datum":-0.61,"type":"quantitative","axis":null},"y2":{"datum":11.964}}},
{"data":{"values":[{}]},"mark":{"type":"rule","color":"black","strokeWidth":4.5},"encoding":{"y":{"datum":1.4,"type":"quantitative","axis":null}}},
{"data":{"values":[{}]},"mark":{"type":"text","align":"center","fontWeight":"bold","fontSize":45},"encoding":{"x":{"datum":1,"type":"quantitative","scale":{"type":"log","domain":[0.005128,146.8],"nice":false},"axis":null},"y":{"datum":0,"type":"quantitative","axis":null},"text":{"value":"Odds Ratio"}}},
{"data":{"values":[{}]},"mark":{"type":"text","align":"center","fontWeight":"bold","fontSize":45},"encoding":{"x":{"datum":1,"type":"quantitative","axis":null},"y":{"datum":1,"type":"quantitative","axis":null},"text":{"value":"M-H, Random, 95% CI"}}},
{"data":{"values":[{}]},"mark":{"type":"rule","color":"black","strokeWidth":3},"encoding":{"x":{"datum":1,"type":"quantitative","axis":null},"y":{"datum":1.4,"type":"quantitative","axis":null},"y2":{"datum":9.97}}},
{"transform":[{"filter":"datum.kind == 'study' && isValid(datum.est)"}],"mark":{"type":"rule","color":"black","strokeWidth":4},"encoding":{"x":{"field":"lo","type":"quantitative","axis":null},"x2":{"field":"hi"},"y":{"field":"row","type":"quantitative","axis":null}}},
{"transform":[{"filter":"datum.kind == 'study' && isValid(datum.est)"}],"mark":{"type":"point","shape":"square","filled":true,"color":"#0000CC","opacity":1},"encoding":{"x":{"field":"est","type":"quantitative","axis":null},"y":{"field":"row","type":"quantitative","axis":null},"size":{"field":"wt","type":"quantitative","scale":{"domain":[0,3.6],"range":[0,150]},"legend":null}}},
{"transform":[{"filter":"datum.kind == 'study' && isValid(datum.hi) && datum.hi >= 100"}],"mark":{"type":"point","shape":"triangle-right","filled":true,"color":"black","opacity":1,"size":350,"xOffset":-15},"encoding":{"x":{"field":"hi","type":"quantitative","axis":null},"y":{"field":"row","type":"quantitative","axis":null}}},
{"transform":[{"filter":"datum.kind == 'sub' && datum.hi / datum.lo < 2"}],"mark":{"type":"point","shape":"M-1,0L0,-1L1,0L0,1Z","filled":true,"color":"black","opacity":1,"size":3000},"encoding":{"x":{"field":"est","type":"quantitative","axis":null},"y":{"field":"row","type":"quantitative","axis":null}}},
{"transform":[{"filter":"datum.kind == 'sub' && datum.hi / datum.lo >= 2"},{"fold":["lo","est"],"as":["key","value"]}],"mark":{"type":"trail","color":"black","opacity":1},"encoding":{"x":{"field":"value","type":"quantitative","axis":null},"y":{"field":"row","type":"quantitative","axis":null},"size":{"field":"key","type":"nominal","scale":{"type":"point","domain":["lo","est"],"range":[0,58],"padding":0},"legend":null},"detail":{"field":"row","type":"nominal"}}},
{"transform":[{"filter":"datum.kind == 'sub' && datum.hi / datum.lo >= 2"},{"fold":["est","hi"],"as":["key","value"]}],"mark":{"type":"trail","color":"black","opacity":1},"encoding":{"x":{"field":"value","type":"quantitative","axis":null},"y":{"field":"row","type":"quantitative","axis":null},"size":{"field":"key","type":"nominal","scale":{"type":"point","domain":["hi","est"],"range":[0,58],"padding":0},"legend":null},"detail":{"field":"row","type":"nominal"}}},
{"data":{"values":[{}]},"mark":{"type":"rule","color":"black","strokeWidth":4},"encoding":{"x":{"datum":0.01,"type":"quantitative","axis":null},"x2":{"datum":100},"y":{"datum":9.97,"type":"quantitative","axis":null}}},
{"data":{"name":"ticks"},"mark":{"type":"rule","color":"black","strokeWidth":3},"encoding":{"x":{"field":"v","type":"quantitative","axis":null},"y":{"datum":9.69,"type":"quantitative","axis":null},"y2":{"datum":10.24}}},
{"data":{"name":"ticks"},"transform":[{"filter":"datum.v == 0.01"}],"mark":{"type":"text","align":"left","fontSize":48},"encoding":{"x":{"field":"v","type":"quantitative","axis":null},"y":{"datum":10.6,"type":"quantitative","axis":null},"text":{"field":"lab","type":"nominal"}}},
{"data":{"name":"ticks"},"transform":[{"filter":"datum.v > 0.01 && datum.v < 100"}],"mark":{"type":"text","align":"center","fontSize":48},"encoding":{"x":{"field":"v","type":"quantitative","axis":null},"y":{"datum":10.6,"type":"quantitative","axis":null},"text":{"field":"lab","type":"nominal"}}},
{"data":{"name":"ticks"},"transform":[{"filter":"datum.v == 100"}],"mark":{"type":"text","align":"right","fontSize":48},"encoding":{"x":{"field":"v","type":"quantitative","axis":null},"y":{"datum":10.6,"type":"quantitative","axis":null},"text":{"field":"lab","type":"nominal"}}},
{"data":{"values":[{}]},"mark":{"type":"text","align":"right","fontSize":48,"dx":-26},"encoding":{"x":{"datum":1,"type":"quantitative","axis":null},"y":{"datum":11.44,"type":"quantitative","axis":null},"text":{"value":"Protective factor"}}},
{"data":{"values":[{}]},"mark":{"type":"text","align":"left","fontSize":48,"dx":20},"encoding":{"x":{"datum":1,"type":"quantitative","axis":null},"y":{"datum":11.44,"type":"quantitative","axis":null},"text":{"value":"Risk factor"}}}
]}
]
}
